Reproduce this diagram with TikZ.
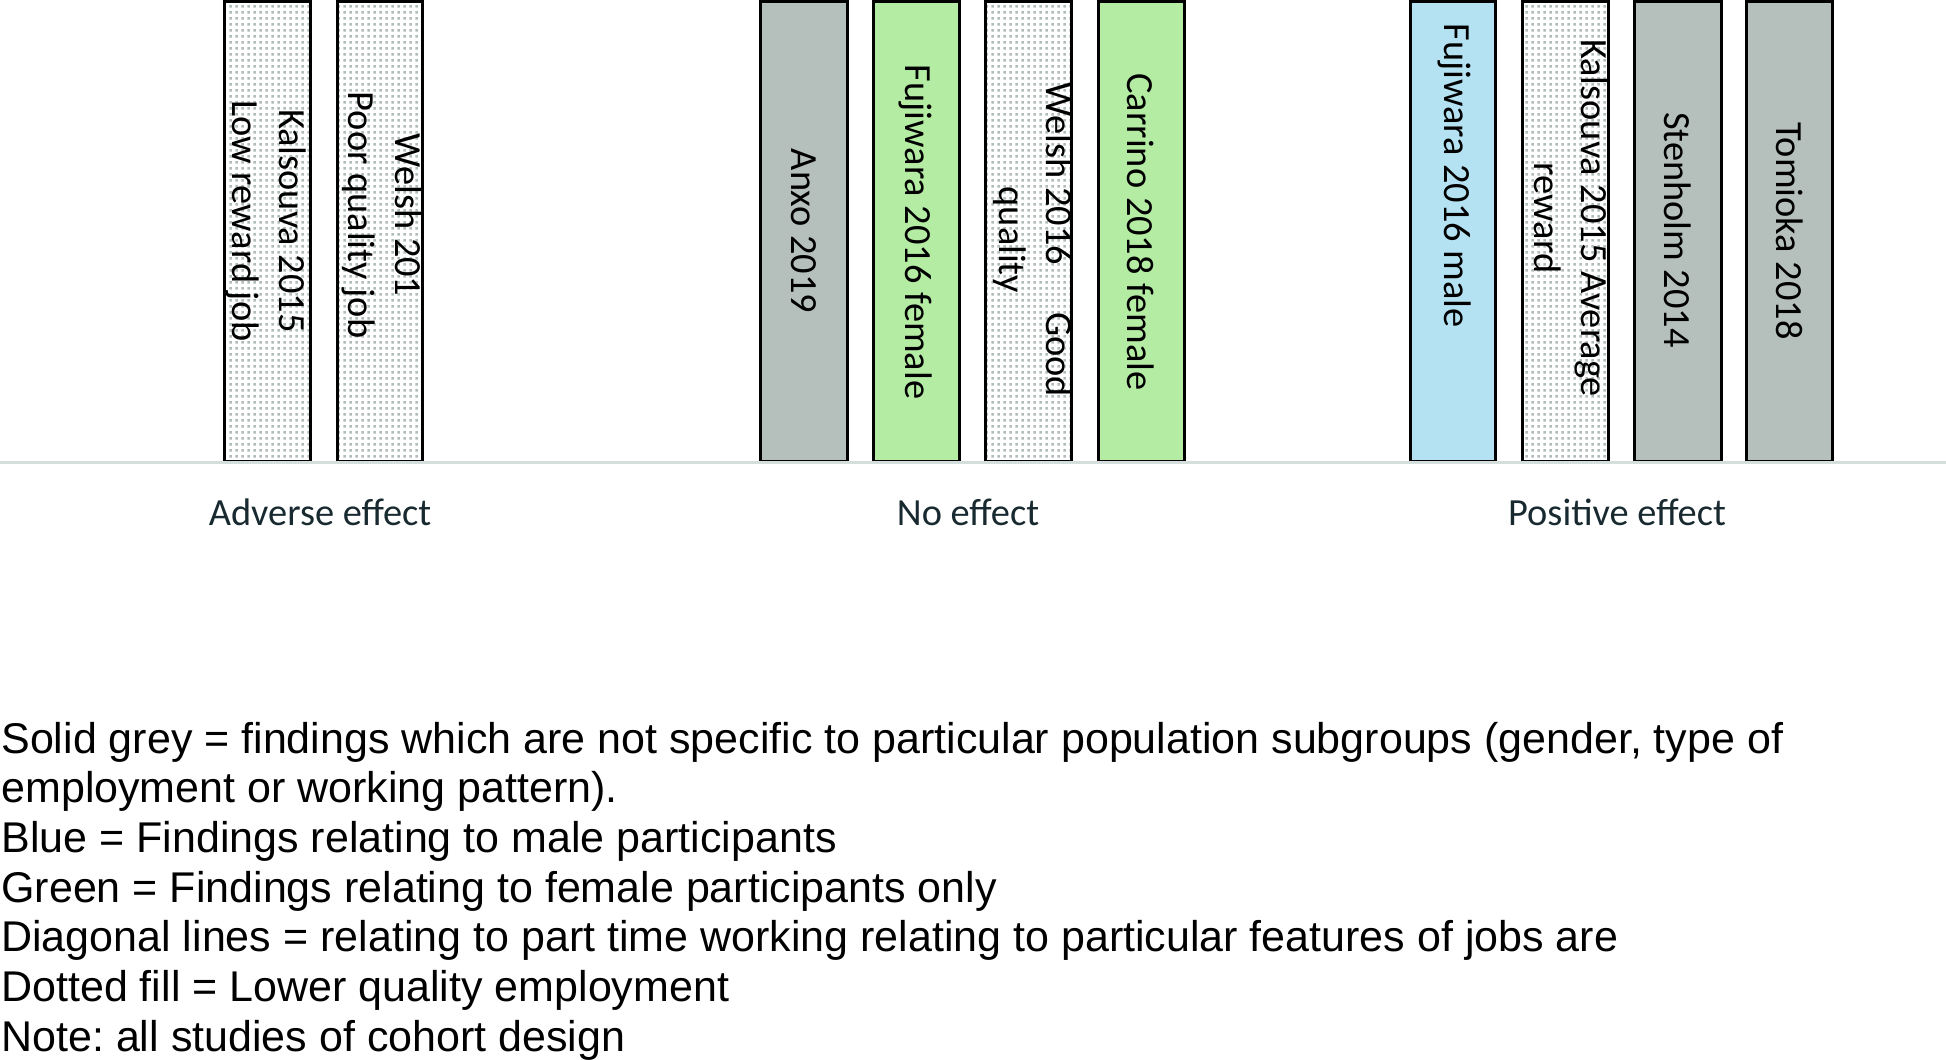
\documentclass[tikz,border=0pt]{standalone}
\usepackage{fontspec}
\setmainfont{Carlito}
\newfontfamily\keyfont{Liberation Sans}
\frenchspacing
\usetikzlibrary{patterns}
\definecolor{solidgrey}{RGB}{181, 191, 188}
\definecolor{femalegreen}{RGB}{180, 236, 164}
\definecolor{maleblue}{RGB}{180, 226, 242}
\definecolor{dotgrey}{RGB}{176, 188, 186}
\definecolor{axisgrey}{RGB}{212, 222, 220}
\definecolor{effecttext}{RGB}{24, 42, 48}
% coarse dot grid for the lower quality bars
\pgfdeclarepatternformonly{jobdots}{\pgfpointorigin}{\pgfpoint{3pt}{3pt}}{\pgfpoint{3pt}{3pt}}{
    \pgfpathrectangle{\pgfpoint{0.8pt}{0.8pt}}{\pgfpoint{1.4pt}{1.4pt}}
    \pgfusepath{fill}
}

\begin{document}
\begin{tikzpicture}[x=0.5pt, y=-0.5pt,
    bar/.style={draw=black, line width=1.6pt},
    dotbar/.style={bar, pattern=jobdots, pattern color=dotgrey},
    study/.style={rotate=-90, align=center, inner sep=0pt, font=\fontsize{19.2}{23.5}\selectfont},
    effect/.style={anchor=base, inner sep=0pt, text=effecttext, font=\fontsize{19.2}{23}\selectfont},
    keyline/.style={anchor=base west, inner sep=0pt, font=\keyfont\fontsize{21.5}{25}\selectfont}]
    \useasboundingbox (0,0) rectangle (1946,1059);
    % Adverse effect
    \draw[dotbar]                (224.5, 1) rectangle ( 310.5, 462);
    \draw[dotbar]                (337.5, 1) rectangle ( 422.5, 462);
    \node[study] (kalsLow)   at ( 266, 221) {Kalsouva 2015\\Low reward job};
    \node[study] (welshPoor) at ( 382, 215) {Welsh 201\\Poor quality job};
    % No effect
    \draw[bar, fill=solidgrey]   (760.5, 1) rectangle ( 847.5, 462);
    \draw[bar, fill=femalegreen] (873.5, 1) rectangle ( 959.5, 462);
    \draw[dotbar]                (985.5, 1) rectangle (1071.5, 462);
    \draw[bar, fill=femalegreen] (1098.5, 1) rectangle (1184.5, 462);
    \node[study] (anxo)      at ( 804, 231) {Anxo 2019};
    \node[study] (fujiFem)   at ( 916, 232) {Fujiwara 2016 female};
    \node[study] (welshGood) at (1033, 240) {Welsh 2016\hspace{1em} Good\\quality};
    \node[study] (carrino)   at (1141, 232) {Carrino 2018 female};
    % Positive effect
    \draw[bar, fill=maleblue]    (1410.5, 1) rectangle (1495.5, 462);
    \draw[dotbar]                (1522.5, 1) rectangle (1608.5, 462);
    \draw[bar, fill=solidgrey]   (1634.5, 1) rectangle (1721.5, 462);
    \draw[bar, fill=solidgrey]   (1746.5, 1) rectangle (1832.5, 462);
    \node[study, anchor=west] (fujiMale) at (1455, 23) {Fujiwara 2016 male};
    \node[study] (kalsAvg)   at (1571, 218) {Kalsouva 2015 Average\\reward};
    \node[study] (stenholm)  at (1678, 230) {Stenholm 2014};
    \node[study] (tomioka)   at (1790, 231) {Tomioka 2018};
    % Axis & effect labels
    \draw[axisgrey, line width=1.5pt] (0, 462) -- (1946, 462);
    \node[effect] (adverse)  at ( 320, 525) {Adverse effect};
    \node[effect] (none)     at ( 968, 525) {No effect};
    \node[effect] (positive) at (1617, 525) {Positive effect};
    % Legend
    \node[keyline] (legGrey)  at (1,  753.0) {Solid grey = findings which are not specific to particular population subgroups (gender, type of};
    \node[keyline] (legEmpl)  at (1,  802.6) {employment or working pattern).};
    \node[keyline] (legBlue)  at (1,  852.3) {Blue = Findings relating to male participants};
    \node[keyline] (legGreen) at (1,  902.0) {Green = Findings relating to female participants only};
    \node[keyline] (legDiag)  at (1,  951.6) {Diagonal lines = relating to part time working relating to particular features of jobs are};
    \node[keyline] (legDots)  at (1, 1001.3) {Dotted fill = Lower quality employment};
    \node[keyline] (legNote)  at (1, 1051.0) {Note: all studies of cohort design};
\end{tikzpicture}
\end{document}
